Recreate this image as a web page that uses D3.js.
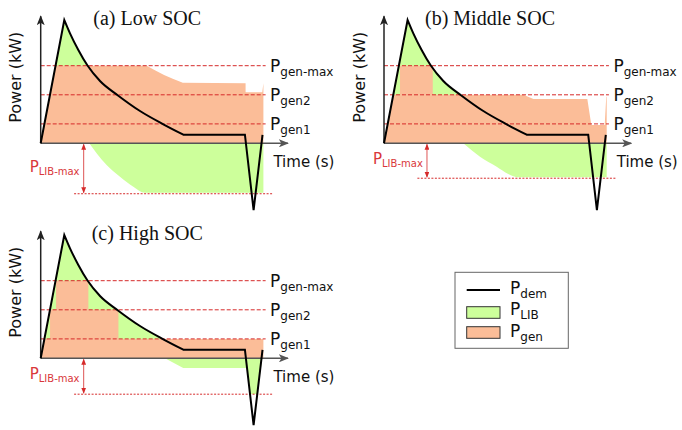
<!DOCTYPE html>
<html lang="en">
<head>
<meta charset="UTF-8">
<title>Power sharing vs SOC</title>
<script src="https://cdn.jsdelivr.net/npm/d3@7"></script>
<style>
  body { margin: 0; background: #fff; }
  svg text { font-family: "DejaVu Sans", Verdana, sans-serif; fill: #111; }
  svg text.title { font-family: "Liberation Serif", "Times New Roman", serif; }
  svg text.red { fill: #d9373a; }
</style>
</head>
<body>
<svg width="682" height="430"></svg>
<script>
// ---- data (time in % of cycle, power in arbitrary kW units) ----
var pgenLevels = [8, 5, 2];
var pgenSubs = ["gen-max", "gen2", "gen1"];

// demand profile: linear rise, decaying curve, plateau, regen spike
var demRise = [[0, 0], [10.6, 12.71]];
var demDecay = [[10.6, 12.71], [13.16, 11.34], [16.9, 9.62], [20.94, 8.04], [26.63, 6.42],
    [34.86, 4.91], [44.59, 3.33], [55.07, 1.96], [64.05, 0.89]];
var demTail = [[64.05, 0.89], [91.7, 0.89], [95.6, -6.88], [99.6, 0.86]];

// generator output per case
var genLow = [[0, 0], [6.67, 8], [47.6, 8], [51.5, 7.5], [55.4, 7.05], [59.3, 6.65], [63.8, 6.25],
    [92.0, 6.19], [92.0, 5.26], [99.5, 5.26], [100, 6.19], [100, 0]];
var genMid = [[0, 0], [4.17, 5], [7.2, 5], [7.2, 8], [21.9, 8], [21.9, 5], [62.6, 5], [67.1, 4.57],
    [91.3, 4.57], [93.1, 1.89], [99.1, 1.89], [99.8, 4.8], [100, 4.8], [100, 0]];
var genHigh = [[0, 0], [1.67, 2], [4.2, 2], [4.2, 5], [6.9, 5], [6.9, 8], [21.4, 8], [21.4, 5],
    [34.9, 5], [34.9, 2], [100, 2], [100, 0]];

// battery charging (negative part)
var libLow = [[21.8, 0], [25.1, -1.03], [29.6, -2.24], [35.6, -3.44], [41.6, -4.47], [46.8, -5.09], [100, -5.09]];
var libMid = [[35.6, 0], [43.1, -1.38], [50.6, -2.41], [55.8, -3.16], [60.3, -3.5], [100, -3.5]];
var libHigh = [[55.8, 0], [64, -1.0], [92.65, -1.0], [94.0, -3.67], [97.26, -3.67], [99.5, 0]];

var plibMax = [5.2, 3.6, 3.7];
var titles = ["(a) Low SOC", "(b) Middle SOC", "(c) High SOC"];
var legendSubs = ["dem", "LIB", "gen"];

// ---- layout ----
var GREEN = "#cdff9b", ORANGE = "#fbbd98", RED = "#d62a2a";
var panels = [
    {ox: 40.7, oy: 143.3, tx: 52.6, gen: genLow, lib: libLow, smooth: true},
    {ox: 384, oy: 143.3, tx: 41, gen: genMid, lib: libMid, smooth: true},
    {ox: 40.7, oy: 358.3, tx: 51, gen: genHigh, lib: libHigh, smooth: false}
];

var svg = d3.select("svg");
var x = d3.scaleLinear().domain([0, 100]).range([0, 222.7]);
var y = d3.scaleLinear().domain([0, 10]).range([0, -97]);

var defs = svg.append("defs");
defs.append("marker").attr("id", "arrB")
    .attr("viewBox", "0 0 10 8").attr("refX", 9).attr("refY", 4)
    .attr("markerWidth", 10).attr("markerHeight", 8).attr("markerUnits", "userSpaceOnUse")
    .attr("orient", "auto")
    .append("path").attr("d", "M0,0 L10,4 L0,8 L2.5,4 z").attr("fill", "#222");
defs.append("marker").attr("id", "arrG")
    .attr("viewBox", "0 0 10 8").attr("refX", 9).attr("refY", 4)
    .attr("markerWidth", 10).attr("markerHeight", 8).attr("markerUnits", "userSpaceOnUse")
    .attr("orient", "auto")
    .append("path").attr("d", "M0,0 L10,4 L0,8 L2.5,4 z").attr("fill", "#555");
defs.append("marker").attr("id", "arrR")
    .attr("viewBox", "0 0 10 8").attr("refX", 9).attr("refY", 4)
    .attr("markerWidth", 6).attr("markerHeight", 5).attr("markerUnits", "userSpaceOnUse")
    .attr("orient", "auto-start-reverse")
    .append("path").attr("d", "M0,0 L10,4 L0,8 z").attr("fill", RED);

var lin = d3.line().x(function (d) { return x(d[0]); }).y(function (d) { return y(d[1]); });
var mono = d3.line().x(function (d) { return x(d[0]); }).y(function (d) { return y(d[1]); })
    .curve(d3.curveMonotoneX);
var areaLin = d3.area().x(function (d) { return x(d[0]); }).y0(y(0)).y1(function (d) { return y(d[1]); });
var areaMono = d3.area().x(function (d) { return x(d[0]); }).y0(y(0)).y1(function (d) { return y(d[1]); })
    .curve(d3.curveMonotoneX);

var demPath = lin(demRise) + mono(demDecay).replace(/^M/, "L") + lin(demTail).replace(/^M/, "L");
var demFill = lin(demRise) + mono(demDecay).replace(/^M/, "L")
    + lin([demTail[0], demTail[1], [demTail[1][0], 0]]).replace(/^M/, "L") + "Z";

panels.forEach(function (p, i) {
    var g = svg.append("g").attr("transform", "translate(" + p.ox + "," + p.oy + ")");

    // LIB discharge (under demand), generator on top, LIB charge below axis
    g.append("path").attr("d", demFill).attr("fill", GREEN);
    g.append("path").attr("d", areaLin(p.gen)).attr("fill", ORANGE);
    g.append("path").attr("d", (p.smooth ? areaMono : areaLin)(p.lib)).attr("fill", GREEN);

    // generator levels
    g.selectAll(".pgen").data(pgenLevels).enter().append("line")
        .attr("x1", x(0)).attr("x2", x(101))
        .attr("y1", function (d) { return y(d); }).attr("y2", function (d) { return y(d); })
        .attr("stroke", RED).attr("stroke-width", 1).attr("stroke-dasharray", "4,2");
    g.selectAll(".pgenText").data(pgenLevels).enter().append("text")
        .attr("x", x(103)).attr("y", function (d) { return y(d) + 6; })
        .each(function (d, k) {
            var t = d3.select(this);
            t.append("tspan").attr("font-size", 17).text("P");
            t.append("tspan").attr("font-size", 12).attr("dy", 4).text(pgenSubs[k]);
        });

    // LIB max
    g.append("line").attr("x1", x(15)).attr("x2", x(104))
        .attr("y1", y(-plibMax[i])).attr("y2", y(-plibMax[i]))
        .attr("stroke", RED).attr("stroke-width", 1).attr("stroke-dasharray", "2,1.5");
    g.append("line").attr("x1", x(19.3)).attr("x2", x(19.3))
        .attr("y1", y(0) + 1).attr("y2", y(-plibMax[i]) - 1)
        .attr("stroke", RED).attr("stroke-width", 0.8)
        .attr("marker-start", "url(#arrR)").attr("marker-end", "url(#arrR)");
    var lt = g.append("text").attr("class", "red").attr("x", -11).attr("y", y(-plibMax[i] / 2) + 3);
    lt.append("tspan").attr("font-size", 15).text("P");
    lt.append("tspan").attr("font-size", 10).attr("dy", 3).text("LIB-max");

    // axes
    g.append("line").attr("x1", 0).attr("y1", 0).attr("x2", x(111)).attr("y2", 0)
        .attr("stroke", "#555").attr("stroke-width", 1.5).attr("marker-end", "url(#arrG)");
    g.append("line").attr("x1", 0).attr("y1", 0).attr("x2", 0).attr("y2", y(13.1))
        .attr("stroke", "#222").attr("stroke-width", 1.5).attr("marker-end", "url(#arrB)");

    // demand
    g.append("path").attr("d", demPath).attr("fill", "none")
        .attr("stroke", "#000").attr("stroke-width", 2).attr("stroke-linejoin", "miter");

    g.append("text").attr("x", x(104.5)).attr("y", 24).attr("font-size", 15).text("Time (s)");
    g.append("text").attr("transform", "translate(-19.5,-66) rotate(-90)")
        .attr("text-anchor", "middle").attr("font-size", 16).text("Power (kW)");
    g.append("text").attr("class", "title").attr("x", p.tx).attr("y", -118.3)
        .attr("font-size", 20).text(titles[i]);
});

// legend
var lg = svg.append("g").attr("transform", "translate(455,272.3)");
lg.append("rect").attr("width", 113.3).attr("height", 76)
    .attr("fill", "#fff").attr("stroke", "#666").attr("stroke-width", 1);
lg.append("line").attr("x1", 11.7).attr("x2", 45).attr("y1", 17.7).attr("y2", 17.7)
    .attr("stroke", "#000").attr("stroke-width", 2);
lg.append("rect").attr("x", 11.7).attr("y", 34.4).attr("width", 33.3).attr("height", 11.6)
    .attr("fill", GREEN).attr("stroke", "#333").attr("stroke-width", 1);
lg.append("rect").attr("x", 11.7).attr("y", 54.4).attr("width", 33.3).attr("height", 11.6)
    .attr("fill", ORANGE).attr("stroke", "#333").attr("stroke-width", 1);
lg.selectAll(".lt").data(legendSubs).enter().append("text")
    .attr("x", 55).attr("y", function (d, k) { return 21.5 + k * 21.5; })
    .each(function (d) {
        var t = d3.select(this);
        t.append("tspan").attr("font-size", 17).text("P");
        t.append("tspan").attr("font-size", 12).attr("dy", 4).text(d);
    });
</script>
</body>
</html>
